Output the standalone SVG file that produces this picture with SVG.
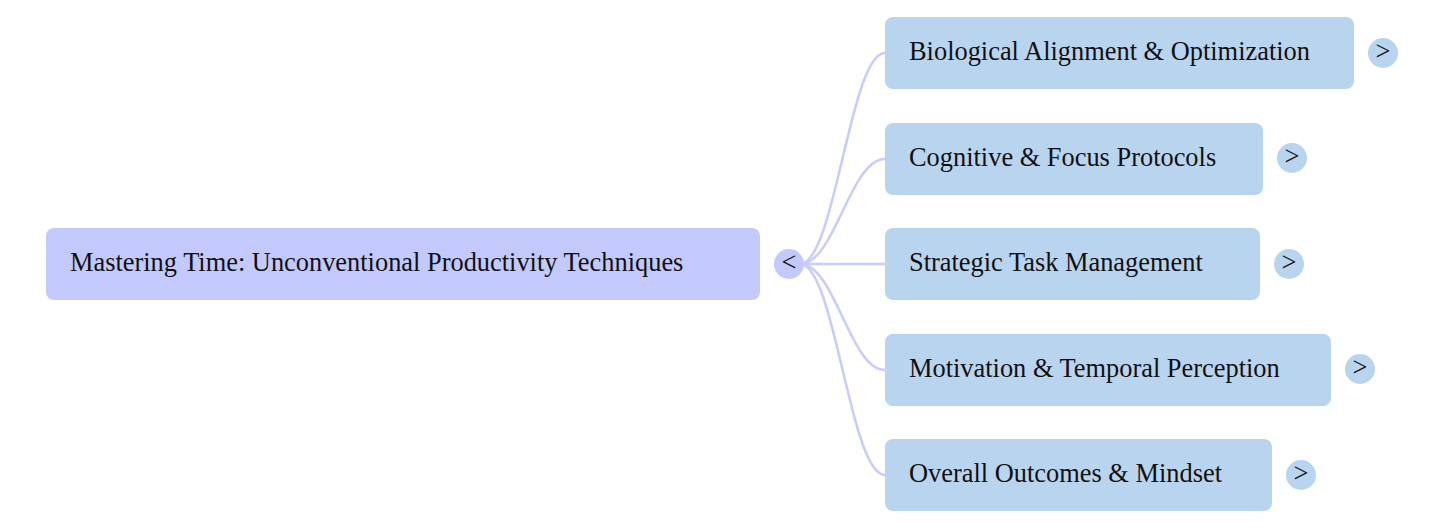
<svg xmlns="http://www.w3.org/2000/svg" width="1445" height="529" viewBox="0 0 1445 529">
<style>
.t{font-family:"Liberation Serif",serif;font-size:26.4px;fill:#111}
.c{fill:#b9d4ee}
.l{fill:none;stroke:#c8cbfd;stroke-width:2.5}
</style>
<rect width="1445" height="529" fill="#fff"/>
<g id="connectors">
<path class="l" d="M800,264 C835,264 850,53 885,53"/>
<path class="l" d="M800,264 C835,264 850,159 885,159"/>
<path class="l" d="M800,264 L885,264"/>
<path class="l" d="M800,264 C835,264 850,370 885,370"/>
<path class="l" d="M800,264 C835,264 850,475 885,475"/>
</g>
<g id="root">
<rect x="46" y="228" width="714" height="72" rx="8" fill="#c3c9fd"/>
<text class="t" x="70" y="271">Mastering Time: Unconventional Productivity Techniques</text>
<circle cx="789" cy="264" r="15" fill="#c3c9fd"/>
<text class="t" x="789" y="271" text-anchor="middle">&lt;</text>
</g>
<g id="n1">
<rect class="c" x="885" y="17" width="469" height="72" rx="8"/>
<text class="t" x="909" y="60">Biological Alignment &amp; Optimization</text>
<circle class="c" cx="1383" cy="53" r="15"/>
<text class="t" x="1383" y="60" text-anchor="middle">&gt;</text>
</g>
<g id="n2">
<rect class="c" x="885" y="123" width="378" height="72" rx="8"/>
<text class="t" x="909" y="166">Cognitive &amp; Focus Protocols</text>
<circle class="c" cx="1292" cy="158" r="15"/>
<text class="t" x="1292" y="165" text-anchor="middle">&gt;</text>
</g>
<g id="n3">
<rect class="c" x="885" y="228" width="375" height="72" rx="8"/>
<text class="t" x="909" y="271">Strategic Task Management</text>
<circle class="c" cx="1289" cy="264" r="15"/>
<text class="t" x="1289" y="271" text-anchor="middle">&gt;</text>
</g>
<g id="n4">
<rect class="c" x="885" y="334" width="446" height="72" rx="8"/>
<text class="t" x="909" y="377">Motivation &amp; Temporal Perception</text>
<circle class="c" cx="1360" cy="369" r="15"/>
<text class="t" x="1360" y="376" text-anchor="middle">&gt;</text>
</g>
<g id="n5">
<rect class="c" x="885" y="439" width="387" height="72" rx="8"/>
<text class="t" x="909" y="482">Overall Outcomes &amp; Mindset</text>
<circle class="c" cx="1301" cy="475" r="15"/>
<text class="t" x="1301" y="482" text-anchor="middle">&gt;</text>
</g>
</svg>
